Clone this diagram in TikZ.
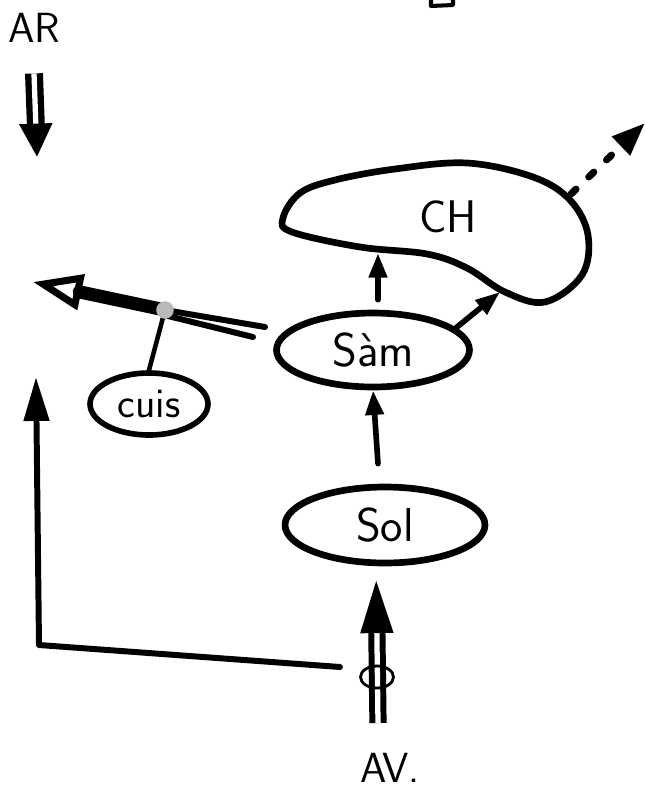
\documentclass[tikz,border=0pt]{standalone}
\usepackage{tikz}
\usetikzlibrary{arrows.meta,shapes.geometric,calc}

\tikzset{
  lbl/.style={font=\sffamily\fontsize{24}{28}\selectfont},
  oval/.style={draw, ellipse, line width=3.8pt, inner sep=0pt,
               font=\sffamily\fontsize{27}{30}\selectfont},
  flow/.style={line width=3.2pt, -{Triangle[length=14pt, width=10pt]}},
  dbl/.style={double, line width=3.4pt, double distance=3pt, line cap=butt},
}

\begin{document}
\begin{tikzpicture}[x=0.02cm, y=-0.02cm, line cap=round, line join=round]
  \useasboundingbox (0,0) rectangle (645,789);

  % Labels
  \node[lbl] (ar) at (34,28) {AR};
  \node[lbl] (av) at (390,768) {AV.};

  % Ovals
  \node[oval, minimum width=3.86cm, minimum height=1.48cm] (sam) at (373,350) {S\`am};
  \node[oval, minimum width=4cm, minimum height=1.52cm] (sol) at (385,525) {Sol};
  \node[oval, line width=3.2pt, minimum width=2.36cm, minimum height=1.24cm,
        font=\sffamily\fontsize{24}{26}\selectfont] (cuis) at (149,404) {cuis};

  % Kidney shape
  \draw[line width=3.8pt] plot[smooth cycle, tension=0.6] coordinates {
    (283,218) (300,193) (335,180) (395,169) (467,163) (533,177) (570,200)
    (588,235) (582,275) (545,302) (505,292) (467,268) (427,254) (360,247) (292,232)};
  \node[lbl, font=\sffamily\fontsize{26}{28}\selectfont] (ch) at (448,217) {CH};
  \coordinate (chBottom) at (378,253);
  \coordinate (chNeck) at (500,292);
  \coordinate (chRim) at (567,197);
  \coordinate (exit) at (645,123);

  % Flow upwards
  \draw[flow] ($(sol.north)+(-7,-20)$) -- (sam.south);
  \draw[flow] ($(sam.north)+(5,-10)$) -- (chBottom);
  \draw[flow] (sam.15) -- (chNeck);
  \draw[line width=4pt, dash pattern=on 4pt off 10pt,
        -{Triangle[length=19pt, width=14pt]}] ($(chRim)+(4,-3)$) -- (exit);

  % Feedback to the left
  \coordinate (knot) at (165,310);
  \coordinate (back) at (33,282);
  \coordinate (inA) at (265,327);
  \coordinate (inB) at (253,337);
  \draw[line width=7.5pt, -{Triangle[open, length=28pt, width=20pt, line width=4pt]}] (knot) -- (back);
  \draw[line width=3.4pt] (knot) -- (inA);
  \draw[line width=3.4pt] ($(knot)+(3,6)$) -- (inB);
  \draw[line width=2.6pt] (knot) -- (cuis.north);
  \fill[gray!55] (knot) circle (5pt);

  % Input
  \coordinate (avIn) at (378,723);
  \draw[dbl, -{Triangle[length=30pt, width=18pt]}] (avIn) -- ([xshift=-5pt,yshift=-8pt]sol.south);
  \node[draw, ellipse, line width=1.6pt, minimum width=0.66cm, minimum height=0.44cm,
        inner sep=0pt] (ring) at (377,677) {};
  \coordinate (branch) at (340,667);
  \coordinate (corner) at (39,645);
  \coordinate (upTip) at (36,377);
  \draw[line width=3.4pt, -{Triangle[length=25pt, width=14pt]}] (branch) -- (corner) -- (upTip);

  % Output
  \coordinate (arTip) at (37,157);
  \draw[dbl, line width=3.6pt, -{Triangle[length=19pt, width=18pt]}] ([yshift=-14pt]ar.south) -- (arTip);

  % Top fragment
  \draw[line width=2.3pt] (431,0) -- (431,6) -- (453,5) -- (453,0);
\end{tikzpicture}
\end{document}
